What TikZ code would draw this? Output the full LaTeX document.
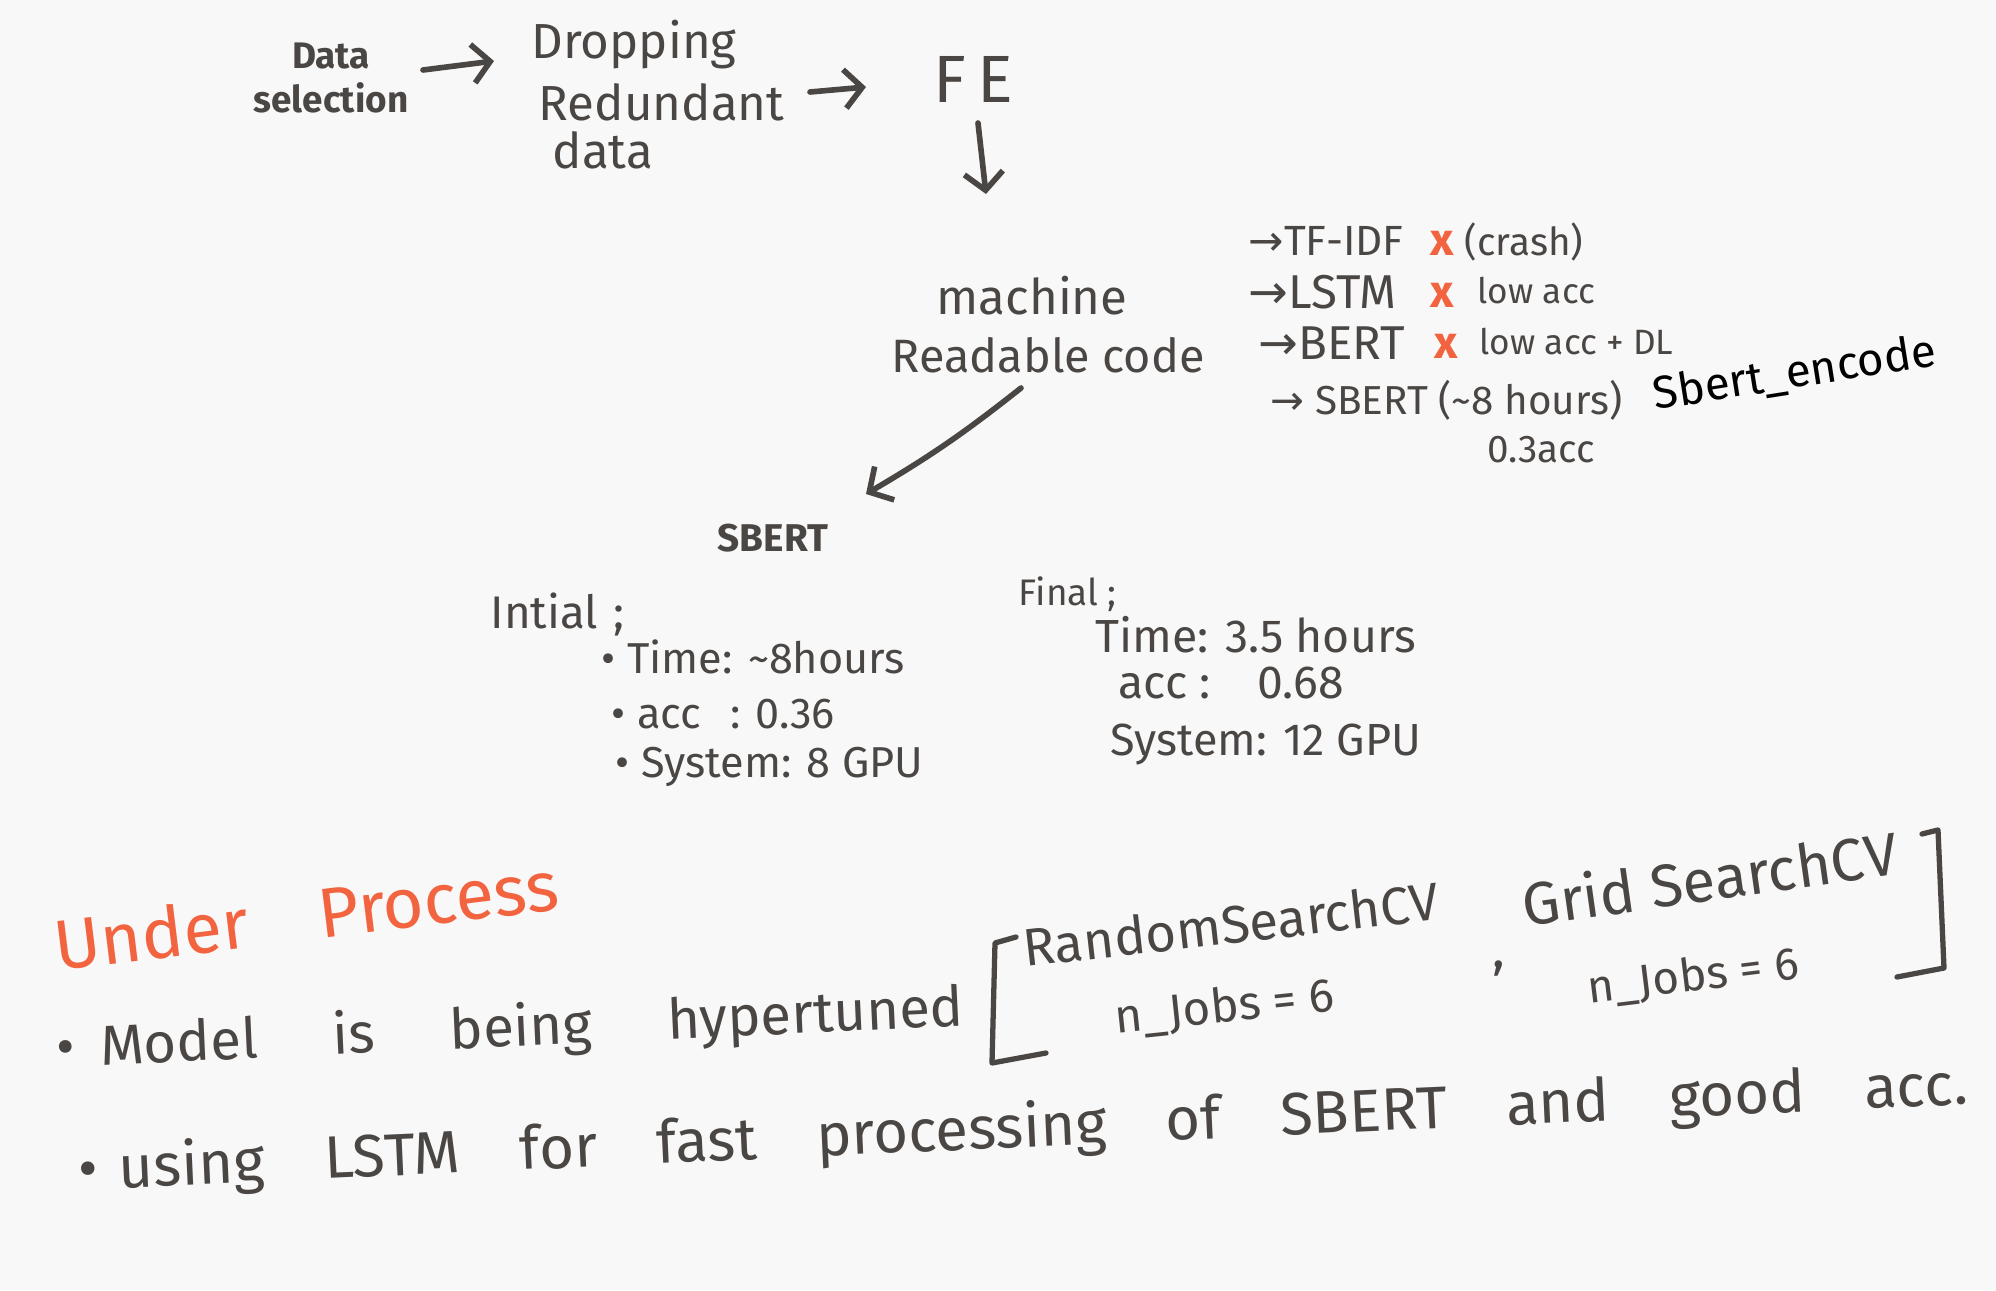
\documentclass[tikz,border=0pt]{standalone}
\usepackage{fontspec}
\setmainfont{Fira Sans}
\newfontfamily\symf{DejaVu Sans}
\usetikzlibrary{arrows.meta}
\definecolor{ink}{HTML}{4A4644}
\definecolor{hot}{HTML}{F2643F}
\definecolor{paper}{HTML}{F8F8F8}
\newcommand\fitw[2]{\makebox[#1][s]{#2}}
\newcommand\fs[1]{\fontsize{#1}{#1}\selectfont}
\begin{document}
\begin{tikzpicture}[x=0.01cm,y=-0.01cm,
  txt/.style={text=ink, inner sep=0pt, anchor=base west},
  cross/.style={text=hot, inner sep=0pt, font=\fs{13}\bfseries},
  arr/.style={draw=ink, line width=1.6pt, line cap=round, line join=round, -{Straight Barb[length=5pt,width=11pt,line width=1.6pt]}},
  brk/.style={draw=ink, line width=1.5pt, line cap=round, line join=round}]
\fill[paper] (0,0) rectangle (1996,1290);
\useasboundingbox (0,0) rectangle (1996,1290);

% top flow
\node[text=ink, inner sep=0pt, align=center, font=\fs{10.5}\bfseries] (ds) at (331,78) {Data\\[2pt]selection};
\node[txt, font=\fs{14}] (drop) at (531,58) {Dropping};
\node[txt, font=\fs{14}] (red) at (538,120) {Redundant};
\node[txt, font=\fs{14}] (dat) at (552,168) {data};
\node[txt, font=\fs{19}] (fe) at (933,102) {F\,E};

\coordinate (a1s) at (423,70); \coordinate (a1e) at (494,61);
\coordinate (a2s) at (810,92); \coordinate (a2e) at (866,87);
\coordinate (a3s) at (978,123); \coordinate (a3e) at (986,194);
\coordinate (a4s) at (1021,388); \coordinate (a4e) at (866,494);
\draw[arr] (a1s) -- (a1e);
\draw[arr] (a2s) -- (a2e);
\draw[arr] (a3s) -- (a3e);
\draw[arr] (a4s) to[bend left=4] (a4e);

\node[txt, font=\fs{14}] (mach) at (936,314) {machine};
\node[txt, font=\fs{13.3}] (rc) at (891,372) {Readable code};
\node[txt, font=\fs{11}\bfseries] (sb) at (717,551) {SBERT};

% options list
\node[txt, font=\fs{12}] (tf) at (1248,255) {{\symf →}TF-IDF};
\node[cross] (x1) at (1442,243) {x};
\node[txt, font=\fs{11}] (crash) at (1464,255) {(crash)};
\node[txt, font=\fs{13.5}] (ls) at (1248,308) {{\symf →}LSTM};
\node[cross] (x2) at (1442,295) {x};
\node[txt, font=\fs{10}] (la) at (1477,303) {low acc};
\node[txt, font=\fs{13.5}] (be) at (1258,359) {{\symf →}BERT};
\node[cross] (x3) at (1446,346) {x};
\node[txt, font=\fs{10}] (lad) at (1479,354) {low acc + DL};
\node[txt, font=\fs{11.5}] (sbt) at (1270,414) {{\symf →}\ SBERT (\textasciitilde8 hours)};
\node[inner sep=0pt, anchor=base west, text=black, font=\fs{13}, rotate=9] (enc) at (1655,410) {Sbert\_encode};
\node[txt, font=\fs{11}] (acc3) at (1487,462) {0.3acc};

% initial / final
\node[txt, font=\fs{13}] (ini) at (490,628) {Intial\,\,;};
\node[txt, font=\fs{12.3}] (i1) at (601,673) {• Time: \textasciitilde8hours};
\node[txt, font=\fs{12.3}] (i2) at (611,728) {• acc\enspace\,: 0.36};
\node[txt, font=\fs{12.3}] (i3) at (615,777) {• System: 8 GPU};
\node[txt, font=\fs{10.5}] (fin) at (1018,605) {Final ;};
\node[txt, font=\fs{13.2}] (f1) at (1095,652) {Time: 3.5 hours};
\node[txt, font=\fs{13.2}] (f2) at (1118,698) {acc :\quad 0.68};
\node[txt, font=\fs{12.8}] (f3) at (1110,755) {System: 12 GPU};

% under process
\node[inner sep=0pt, anchor=base west, text=hot, font=\fs{20}, rotate=7] (up) at (57,971) {\fitw{5.07cm}{Under Process}};
\node[txt, font=\fs{16}, rotate=2.6] (m1) at (57,1067) {\fitw{9.07cm}{•\hspace{0.45em}Model is being hypertuned}};
\node[txt, font=\fs{15}, rotate=6.5] (rs) at (1025,967) {RandomSearchCV};
\node[txt, font=\fs{13.5}, rotate=6] (nj1) at (1116,1034) {n\_Jobs = 6};
\node[txt, font=\fs{15}] (cm) at (1492,967) {,};
\node[txt, font=\fs{17}, rotate=8] (gs) at (1525,927) {Grid SearchCV};
\node[txt, font=\fs{13}, rotate=7] (nj2) at (1589,1004) {n\_Jobs = 6};
\node[txt, font=\fs{17}, rotate=2.6] (m2) at (79,1190) {\fitw{18.9cm}{•\hspace{0.35em}using LSTM for fast processing of SBERT and good acc.}};

% brackets
\draw[brk] (1016,937) -- (995,943) -- (992,1063) -- (1046,1053);
\draw[brk] (1922,834) -- (1938,830) -- (1944,968) -- (1897,977);
\end{tikzpicture}
\end{document}
